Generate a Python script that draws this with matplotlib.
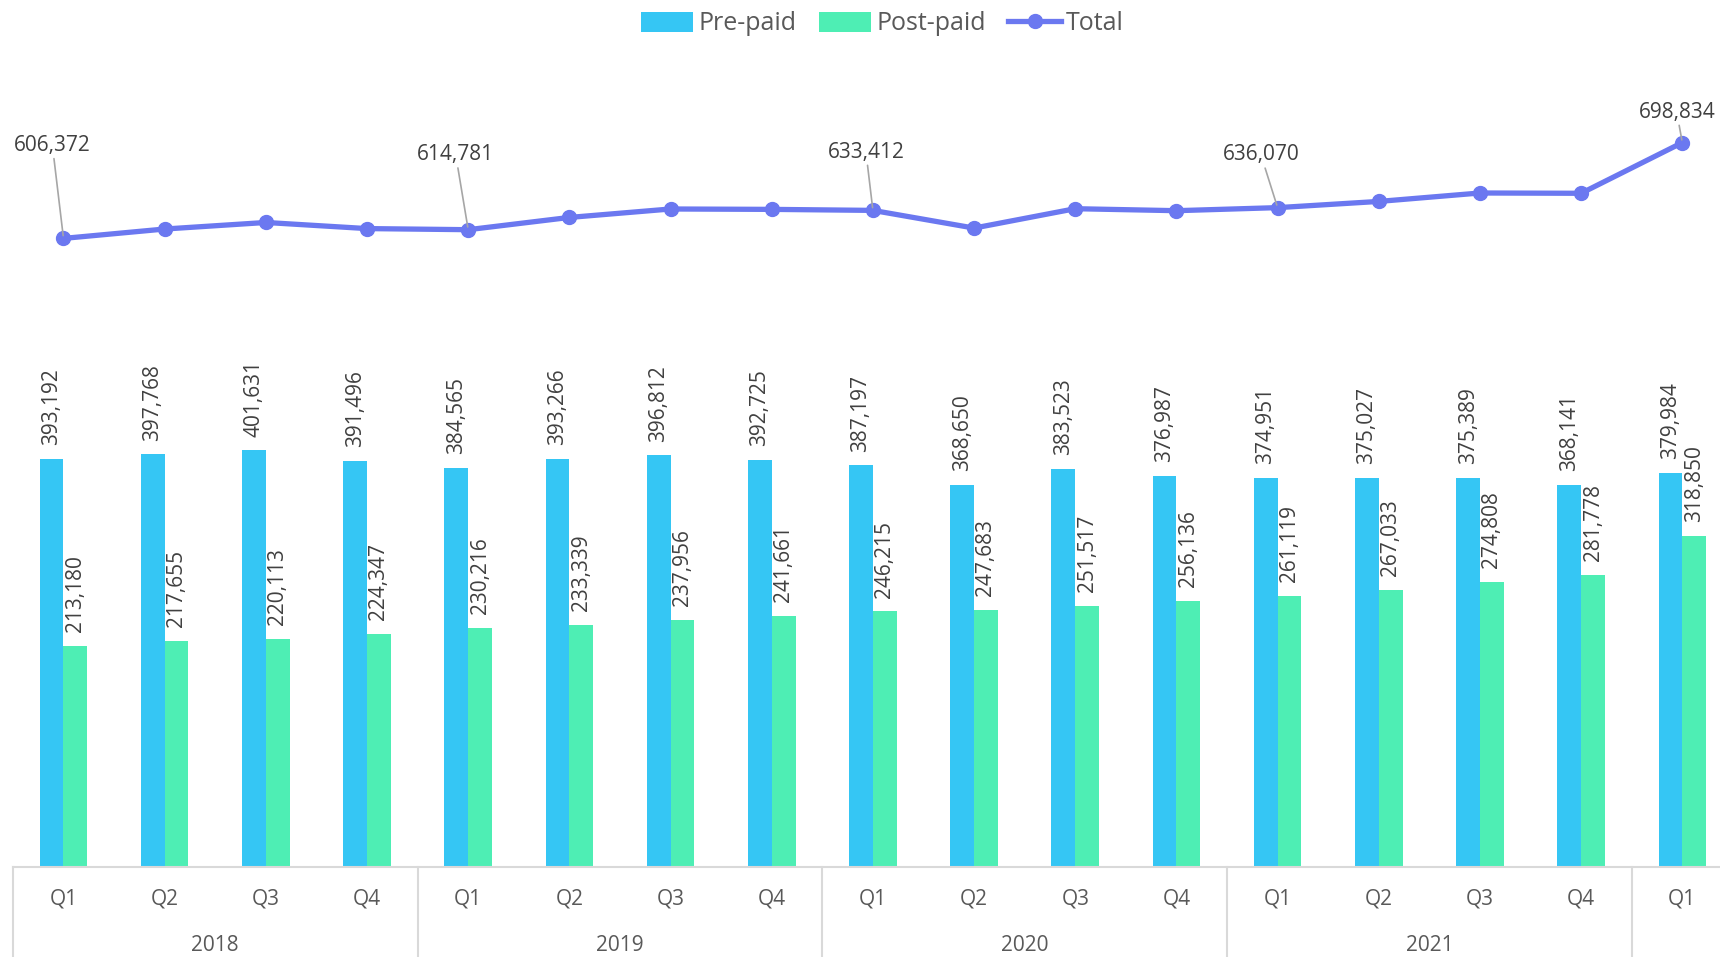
import matplotlib.pyplot as plt
import numpy as np

plt.rcParams['font.family'] = ['Open Sans', 'DejaVu Sans']

quarters = ["Q1", "Q2", "Q3", "Q4"] * 4 + ["Q1"]
years = ["2018", "2019", "2020", "2021"]
prepaid = [393192, 397768, 401631, 391496, 384565, 393266, 396812, 392725,
           387197, 368650, 383523, 376987, 374951, 375027, 375389, 368141, 379984]
postpaid = [213180, 217655, 220113, 224347, 230216, 233339, 237956, 241661,
            246215, 247683, 251517, 256136, 261119, 267033, 274808, 281778, 318850]
total = [606372, 615423, 621744, 615843, 614781, 626605, 634768, 634386,
         633412, 616333, 635040, 633123, 636070, 642060, 650197, 649919, 698834]
total_labelled = [0, 4, 8, 12, 16]

c_pre = "#35C6F4"
c_post = "#4EEEB4"
c_tot = "#6B78F0"
c_lab = "#404040"
c_axis = "#595959"

fig = plt.figure(figsize=(17.2, 9.57), dpi=100)
ax = fig.add_axes([0.0075, 0.0945, 1.0, 0.9055])

x = np.arange(len(prepaid))
w = 0.235
b1 = ax.bar(x - w / 2, prepaid, w, color=c_pre, label="Pre-paid", zorder=2)
b2 = ax.bar(x + w / 2, postpaid, w, color=c_post, label="Post-paid", zorder=2)
l1, = ax.plot(x, total, color=c_tot, lw=3.8, marker="o", ms=10, label="Total", zorder=3)

fs = 15
for i in x:
    ax.annotate(f"{prepaid[i]:,}", (i - w / 2, prepaid[i]), xytext=(0, 10),
                textcoords="offset points", rotation=90, ha="center", va="bottom",
                fontsize=fs, color=c_lab)
    ax.annotate(f"{postpaid[i]:,}", (i + w / 2, postpaid[i]), xytext=(0, 10),
                textcoords="offset points", rotation=90, ha="center", va="bottom",
                fontsize=fs, color=c_lab)

# offsets of total labels (points)
offs = [(-8, 67), (-9, 54), (-5, 42), (-12, 38), (-4, 22)]
for k, i in enumerate(total_labelled):
    ax.annotate(f"{total[i]:,}", (i, total[i]), xytext=offs[k],
                textcoords="offset points", ha="center", va="center",
                fontsize=fs, color=c_lab,
                arrowprops=dict(arrowstyle="-", color="#A6A6A6", lw=1.2,
                                shrinkA=0, shrinkB=2))

ax.set_xlim(-0.5, len(x) - 0.5)
ax.set_ylim(0, 836500)
ax.axis("off")

# category axis
tr = ax.get_xaxis_transform()
ax.plot([-0.5, len(x) - 0.5], [0, 0], transform=tr, color="#D9D9D9", lw=1.5,
        clip_on=False, zorder=4)
for i, q in enumerate(quarters):
    ax.text(i, -0.037, q, transform=tr, ha="center", va="center",
            fontsize=fs, color=c_axis)
for j, y in enumerate(years):
    ax.text(j * 4 + 1.5, -0.091, y, transform=tr, ha="center", va="center",
            fontsize=fs, color=c_axis)
for j in range(len(years) + 1):
    ax.plot([j * 4 - 0.5] * 2, [0, -0.11], transform=tr, color="#D9D9D9",
            lw=1.5, clip_on=False)

fig.legend([b1, b2, l1], ["Pre-paid", "Post-paid", "Total"],
           loc="center", bbox_to_anchor=(0.513, 0.975), ncol=3, frameon=False,
           fontsize=18, labelcolor=c_axis, handlelength=2.1, handleheight=0.85,
           handletextpad=0.2, columnspacing=0.9)

fig.savefig("out.png", dpi=100)
